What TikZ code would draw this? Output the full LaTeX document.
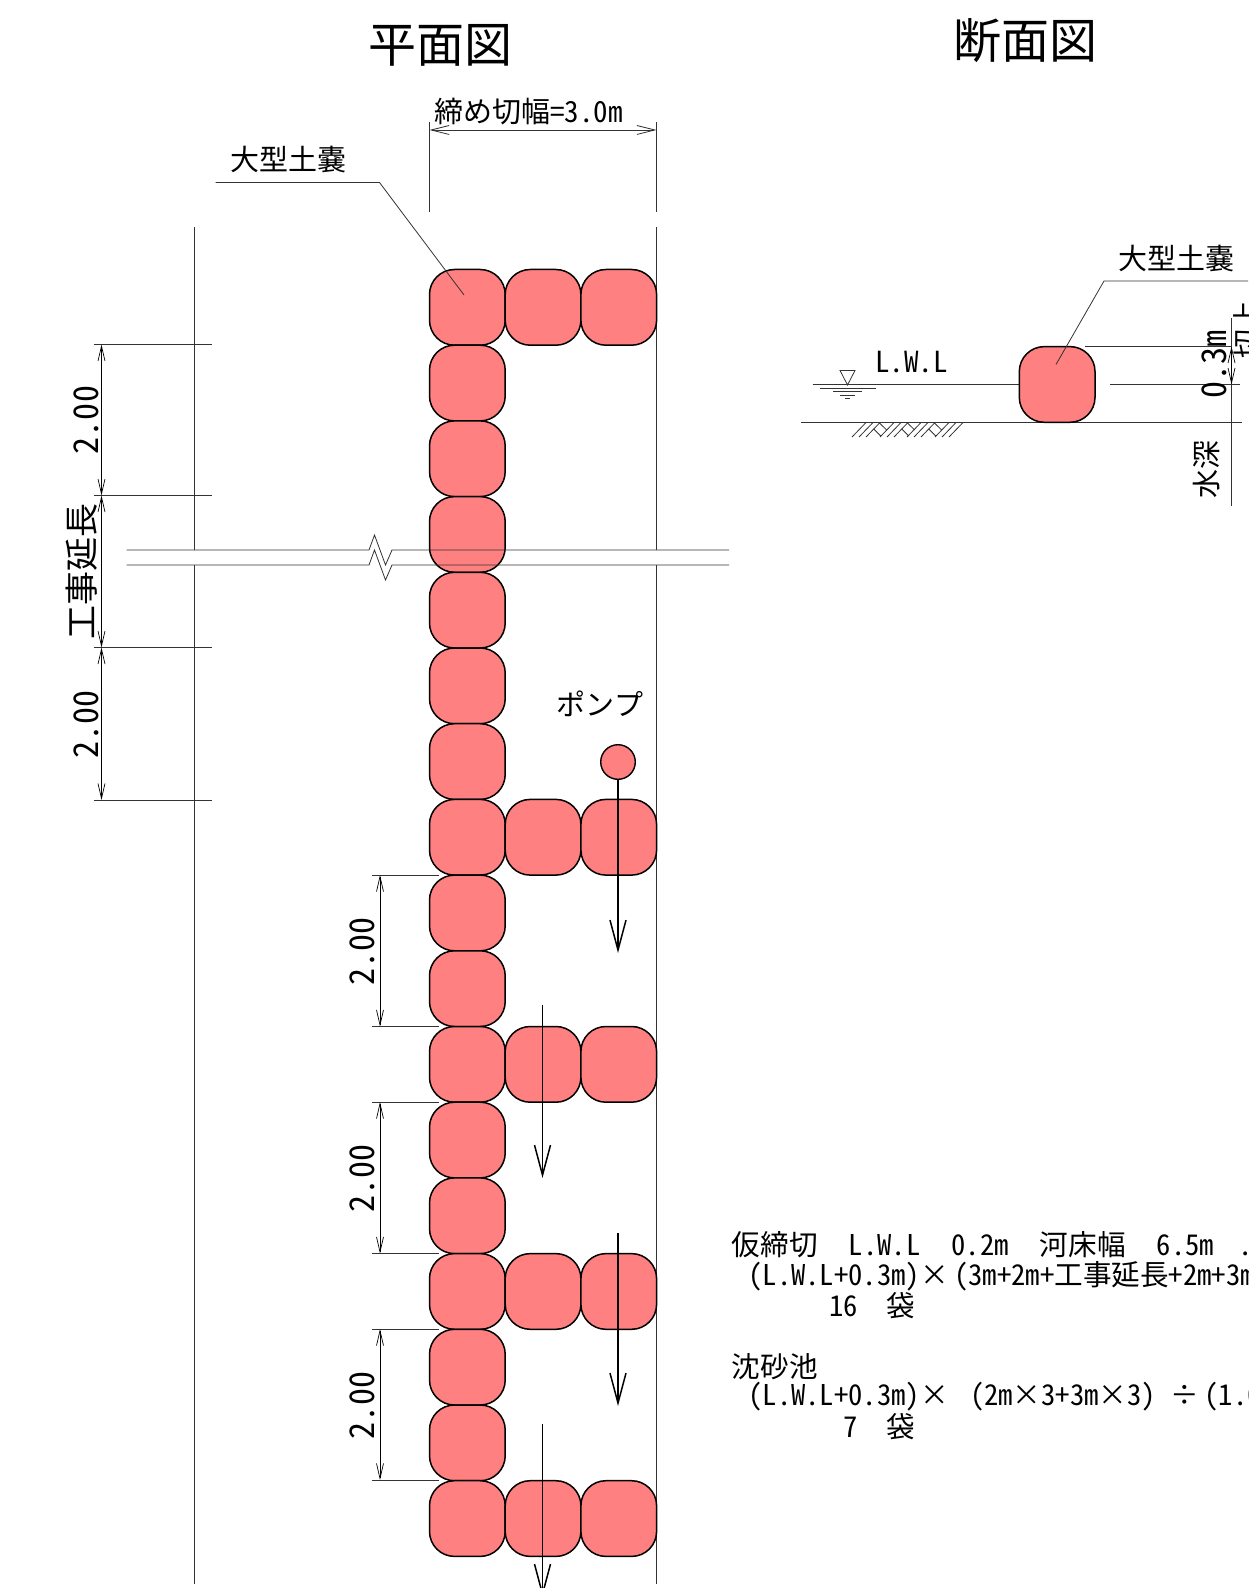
\documentclass[tikz,border=0pt]{standalone}
\usepackage{fontspec}
\setmainfont{Noto Sans CJK JP}[RawFeature=+hwid]
\usetikzlibrary{arrows.meta}
\def\bagx{429.5}
\def\bagy{269.5}
\def\bagw{75.7}
\def\gap{\hspace{1.09em}}
\definecolor{bagred}{RGB}{255,128,128}
\tikzset{
	x=0.5pt,y=-0.5pt,
	bag/.style={fill=bagred,draw=black,line width=0.75pt,rounded corners=12.5pt},
	thinline/.style={draw=black!80,line width=0.4pt},
	dimline/.style={draw=black,line width=0.35pt,{Straight Barb[length=7.5pt,width=3.5pt]}-{Straight Barb[length=7.5pt,width=3.5pt]}},
	flowline/.style={draw=black,line width=0.75pt,-{Straight Barb[length=15pt,width=8pt]}},
	title/.style={inner sep=0pt,font=\fontsize{24}{24}\selectfont},
	label/.style={inner sep=0pt,font=\fontsize{14.5}{14.5}\selectfont},
	dimtext/.style={inner sep=0pt,rotate=90,font=\fontsize{17}{17}\selectfont},
	note/.style={inner sep=0pt,anchor=west,font=\fontsize{14.3}{14.3}\selectfont},
}
\begin{document}
\begin{tikzpicture}
	\useasboundingbox (0,0) rectangle (1248,1588);

	%%% Titles
	\node[title] (plantitle) at (440,45.5) {平面図};
	\node[title] (sectiontitle) at (1025.5,40.5) {断面図};

	%%% Construction width
	\draw[thinline] (429.5,122) -- (429.5,212.5);
	\draw[thinline] (656.5,122) -- (656.5,212.5);
	\draw[thinline,{Straight Barb[length=9pt,width=4.5pt]}-{Straight Barb[length=9pt,width=4.5pt]}] (429.5,130) -- (656.5,130);
	\node[label] (widthtext) at (528.5,111.5) {締め切幅=3.0m};

	%%% Long lines of the plan
	\draw[thinline] (194.5,227) -- (194.5,550);
	\draw[thinline] (194.5,565) -- (194.5,1584);
	\draw[thinline] (656.5,227) -- (656.5,550);
	\draw[thinline] (656.5,565) -- (656.5,1584);

	%%% Left dimensions
	\foreach \ya in {344.5,495.5,647.5,800}
		\draw[thinline] (93.5,\ya) -- (212,\ya);
	\draw[dimline] (101.5,344.5) -- (101.5,495.5);
	\draw[dimline] (101.5,495.5) -- (101.5,647.5);
	\draw[dimline] (101.5,647.5) -- (101.5,800);
	\node[dimtext] (dimone) at (86,420) {2.00};
	\node[dimtext] (dimtwo) at (82,571.5) {工事延長};
	\node[dimtext] (dimthree) at (86,724) {2.00};

	%%% Dimensions beside the bags
	\foreach \ya/\yb/\yt in {875/1026.5/951,1102/1253.5/1178,1329/1480/1405} {
		\draw[thinline] (371.5,\ya) -- (439,\ya);
		\draw[thinline] (371.5,\yb) -- (439,\yb);
		\draw[dimline] (380,\ya) -- (380,\yb);
		\node[dimtext] at (362.5,\yt) {2.00};
	}

	%%% Bags of the plan
	\foreach \row in {0,...,16}
		\filldraw[bag] (\bagx,\bagy+\row*\bagw) rectangle ++(\bagw,\bagw);
	\foreach \row in {0,7,10,13,16}
		\foreach \col in {1,2}
			\filldraw[bag] (\bagx+\col*\bagw,\bagy+\row*\bagw) rectangle ++(\bagw,\bagw);

	%%% Break lines
	\draw[thinline] (126.5,550) -- (369,550) -- (374.5,535) -- (385.5,565) -- (392,550) -- (729,550);
	\draw[thinline] (126.5,565) -- (369,565) -- (374.5,550) -- (385.5,580) -- (392,565) -- (729,565);

	%%% Leader of the plan
	\draw[thinline] (215.5,182.5) -- (379.5,182.5) -- (464,295);
	\node[label] (plansandbag) at (288,160) {大型土嚢};

	%%% Pump and flow
	\node[label] (pumptext) at (600,703.5) {ポンプ};
	\filldraw[fill=bagred,draw=black,line width=0.7pt] (618,762) circle (17.3);
	\draw[flowline] (618,779) -- (618,953);
	\draw[flowline] (542.5,1005) -- (542.5,1178);
	\draw[flowline] (618,1233) -- (618,1406);
	\draw[flowline] (542.5,1424) -- (542.5,1597);

	%%% Section
	\draw[thinline] (812.5,384.5) -- (1019,384.5);
	\draw[thinline] (1110,384.5) -- (1240,384.5);
	\draw[thinline] (801,422.5) -- (1242,422.5);
	\draw[thinline] (1085,346.5) -- (1231.5,346.5);
	\draw[thinline] (1231.5,318) -- (1231.5,506);
	\draw[dimline] (1231.5,346.5) -- (1231.5,384.5);
	\filldraw[bag] (1019.3,346.6) rectangle ++(\bagw,\bagw);
	\draw[thinline] (1248,281) -- (1104,281) -- (1056,364.5);
	\node[label] (sectionsandbag) at (1176.5,258.5) {大型土嚢};
	\node[dimtext] (dimlevel) at (1214,365) {0.3m};
	\node[label,rotate=90] (cuttext) at (1247,330) {切上};
	\node[label,rotate=90] (depthtext) at (1207,469) {水深};
	\node[label] (lwltext) at (911.5,362.5) {L.W.L};

	%%% Water mark
	\draw[thinline] (840,370.5) -- (855,370.5) -- (847.5,385) -- cycle;
	\draw[thinline] (819.5,388.5) -- (875.5,388.5);
	\draw[thinline] (833,391.5) -- (861.5,391.5);
	\draw[thinline] (840,395) -- (855,395);
	\draw[thinline] (845,398.5) -- (850,398.5);

	%%% Ground hatch
	\foreach \xa in {852,859,866,880,887,894,907,914,921,935,942,949}
		\draw[thinline] (\xa,437) -- (\xa+14,422.5);
	\foreach \xa in {866,894,921} {
		\draw[thinline] (\xa+13.5,423) -- (\xa+20.6,430);
		\draw[thinline] (\xa+7.7,429) -- (\xa+14.8,436);
	}

	%%% Notes
	\node[note] (noteone) at (731.5,1245) {仮締切\gap L.W.L\gap 0.2m\gap 河床幅\gap 6.5m\hspace{.85em}.};
	\node[note] (notetwo) at (748,1276) {(L.W.L+0.3m)×\hspace{.2em}(3m+2m+工事延長+2m+3m};
	\node[note] (notethree) at (829,1306) {16\hspace{1em}袋};
	\node[note] (notefour) at (731.5,1366.5) {沈砂池};
	\node[note] (notefive) at (748,1396.5) {(L.W.L+0.3m)×\hspace{.75em}(2m×3+3m×3)\hspace{.5em}÷\hspace{.2em}(1.0};
	\node[note] (notesix) at (843,1426.5) {7\hspace{1em}袋};
\end{tikzpicture}
\end{document}
